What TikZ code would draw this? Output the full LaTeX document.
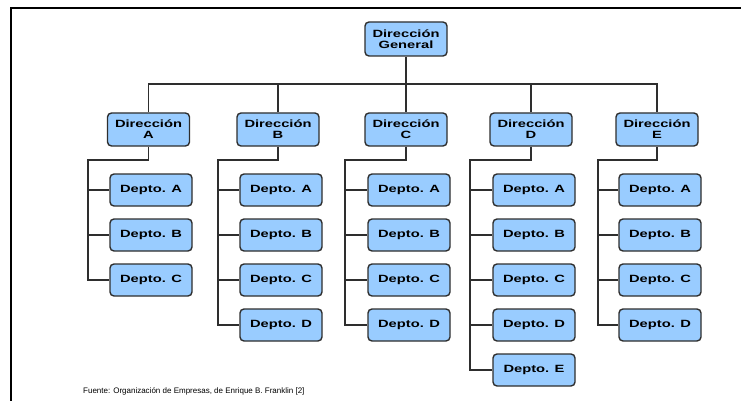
\documentclass[tikz,border=0pt]{standalone}
\usepackage{fontspec}
\setmainfont{Liberation Sans}
\newfontfamily\boxfont{Liberation Sans}[FakeStretch=1.4]
\usetikzlibrary{positioning}
\definecolor{boxblue}{HTML}{99CCFF}
\definecolor{edge}{HTML}{2E2E2E}
\tikzset{unit/.style={draw=edge,fill=boxblue,line width=1.4pt,rounded corners=4pt,align=center,inner sep=0pt,minimum width=82pt,font=\boxfont\bfseries\fontsize{10.5}{11}\selectfont}, dirbox/.style={unit,minimum height=33pt}, deptbox/.style={unit,minimum height=32pt}, link/.style={draw=edge,line width=1.2pt}}

\begin{document}
\begin{tikzpicture}[x=1pt,y=-1pt,node distance=11.6pt]
\useasboundingbox (0,0) rectangle (741,401);
\draw[line width=2pt] (741,8) -- (11,8) -- (11,401);
\node[dirbox,minimum height=34pt] (g) at (406,39) {Dirección\\General};
\node[dirbox] (da) at (148.5,129.5) {Dirección\\A};
\node[dirbox] (db) at (278,129.5) {Dirección\\B};
\node[dirbox] (dc) at (406,129.5) {Dirección\\C};
\node[dirbox] (dd) at (531,129.5) {Dirección\\D};
\node[dirbox] (de) at (657,129.5) {Dirección\\E};
\coordinate (bus) at (406,84);
\draw[link] (g) -- (dc);
\draw[link] (da.north) |- (bus) -| (de.north);\draw[link] (db.north) |- (bus);\draw[link] (dd.north) |- (bus);
% Dirección A
\node[deptbox] (a1) at (151,190) {Depto. A};
\node[deptbox,below=of a1] (a2) {Depto. B};
\node[deptbox,below=of a2] (a3) {Depto. C};
\coordinate (ja) at (88,160);
\draw[link] (da.south) |- (ja) |- (a3.west);
\draw[link] (ja |- a1.west) -- (a1.west);\draw[link] (ja |- a2.west) -- (a2.west);
% Dirección B
\node[deptbox] (b1) at (281,190) {Depto. A};
\node[deptbox,below=of b1] (b2) {Depto. B};
\node[deptbox,below=of b2] (b3) {Depto. C};
\node[deptbox,below=of b3] (b4) {Depto. D};
\coordinate (jb) at (218,160);
\draw[link] (db.south) |- (jb) |- (b4.west);
\draw[link] (jb |- b1.west) -- (b1.west);\draw[link] (jb |- b2.west) -- (b2.west);\draw[link] (jb |- b3.west) -- (b3.west);
% Dirección C
\node[deptbox] (c1) at (409,190) {Depto. A};
\node[deptbox,below=of c1] (c2) {Depto. B};
\node[deptbox,below=of c2] (c3) {Depto. C};
\node[deptbox,below=of c3] (c4) {Depto. D};
\coordinate (jc) at (345,160);
\draw[link] (dc.south) |- (jc) |- (c4.west);
\draw[link] (jc |- c1.west) -- (c1.west);\draw[link] (jc |- c2.west) -- (c2.west);\draw[link] (jc |- c3.west) -- (c3.west);
% Dirección D
\node[deptbox] (d1) at (534,190) {Depto. A};
\node[deptbox,below=of d1] (d2) {Depto. B};
\node[deptbox,below=of d2] (d3) {Depto. C};
\node[deptbox,below=of d3] (d4) {Depto. D};
\node[deptbox,below=of d4] (d5) {Depto. E};
\coordinate (jd) at (470,160);
\draw[link] (dd.south) |- (jd) |- (d5.west);
\draw[link] (jd |- d1.west) -- (d1.west);\draw[link] (jd |- d2.west) -- (d2.west);\draw[link] (jd |- d3.west) -- (d3.west);\draw[link] (jd |- d4.west) -- (d4.west);
% Dirección E
\node[deptbox] (e1) at (660,190) {Depto. A};
\node[deptbox,below=of e1] (e2) {Depto. B};
\node[deptbox,below=of e2] (e3) {Depto. C};
\node[deptbox,below=of e3] (e4) {Depto. D};
\coordinate (je) at (598,160);
\draw[link] (de.south) |- (je) |- (e4.west);
\draw[link] (je |- e1.west) -- (e1.west);\draw[link] (je |- e2.west) -- (e2.west);\draw[link] (je |- e3.west) -- (e3.west);
\node[anchor=base west,inner sep=0pt,font=\fontsize{8}{9}\selectfont] (src) at (83,393) {Fuente: Organización de Empresas, de Enrique B. Franklin [2]};
\end{tikzpicture}
\end{document}
